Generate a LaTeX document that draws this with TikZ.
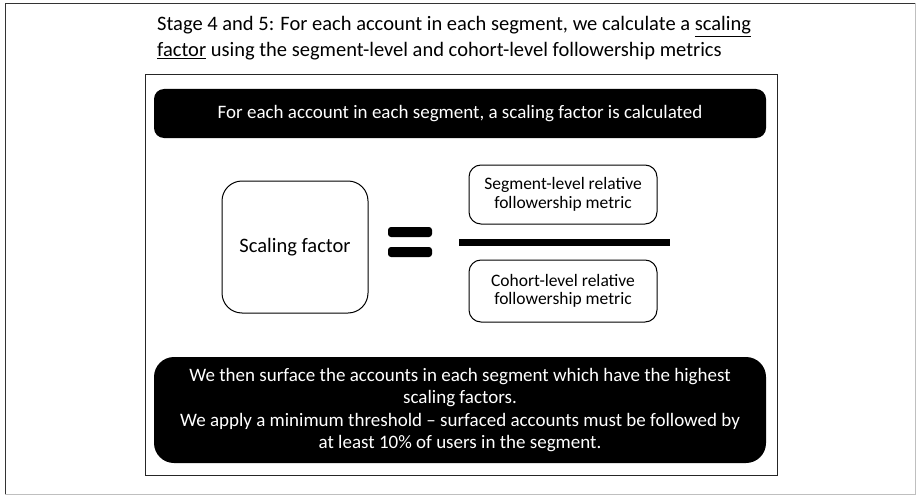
\documentclass[tikz,border=0pt]{standalone}
\usepackage{fontspec}
\setmainfont{Carlito}
\usetikzlibrary{positioning}

\tikzset{
	blackbar/.style={fill=black, text=white, rounded corners=10pt, align=center, inner sep=0pt},
	whitebox/.style={draw=black, line width=1pt, rounded corners=12pt, align=center, inner sep=0pt},
	eqbar/.style={fill=black, rounded corners=3pt, minimum width=44pt, minimum height=10pt, inner sep=0pt},
}

\begin{document}
\begin{tikzpicture}[x=1pt, y=-1pt]

	\useasboundingbox (0, 0) rectangle (916, 495);
	\draw[black!80] (5, 494) -- (5, 3) -- (915, 3);
	\draw[gray!50] (915, 3) -- (915, 494) -- (5, 494);

	\node[anchor=base west, inner sep=0pt, font=\fontsize{20.5}{20}\selectfont] (title1) at (157, 31)
		{Stage 4 and 5: For each account in each segment, we calculate a \underline{scaling}};
	\node[anchor=base west, inner sep=0pt, font=\fontsize{20.5}{20}\selectfont] (title2) at (157, 57)
		{\underline{factor} using the segment-level and cohort-level followership metrics};

	\draw[black!85, line width=0.8pt] (145, 74) rectangle (777, 475);

	\node[blackbar, minimum width=612pt, minimum height=49pt, font=\fontsize{19}{22}\selectfont] (topbar) at (460, 113.5)
		{For each account in each segment, a scaling factor is calculated};

	\node[whitebox, rounded corners=20pt, minimum width=146pt, minimum height=132pt, font=\fontsize{20.5}{22}\selectfont] (sfbox) at (295, 247)
		{Scaling factor};

	\node[eqbar] (eqtop) at (410, 232) {};
	\node[eqbar] (eqbot) at (410, 252) {};

	\node[fill=black, minimum width=211pt, minimum height=7pt, inner sep=0pt] (fracline) at (564.5, 242.5) {};

	\node[whitebox, minimum width=188pt, minimum height=59pt, font=\fontsize{17.5}{18.5}\selectfont] (segbox) at (563, 194.5)
		{Segment-level relative\\followership metric};
	\node[whitebox, minimum width=188pt, minimum height=62pt, font=\fontsize{17.5}{18.5}\selectfont] (cohbox) at (563, 291)
		{Cohort-level relative\\followership metric};

	\node[blackbar, rounded corners=20pt, minimum width=612pt, minimum height=106pt, font=\fontsize{19}{22.5}\selectfont] (botbar) at (460, 410)
		{We then surface the accounts in each segment which have the highest\\scaling factors.\\We apply a minimum threshold -- surfaced accounts must be followed by\\at least 10\% of users in the segment.};

\end{tikzpicture}
\end{document}
